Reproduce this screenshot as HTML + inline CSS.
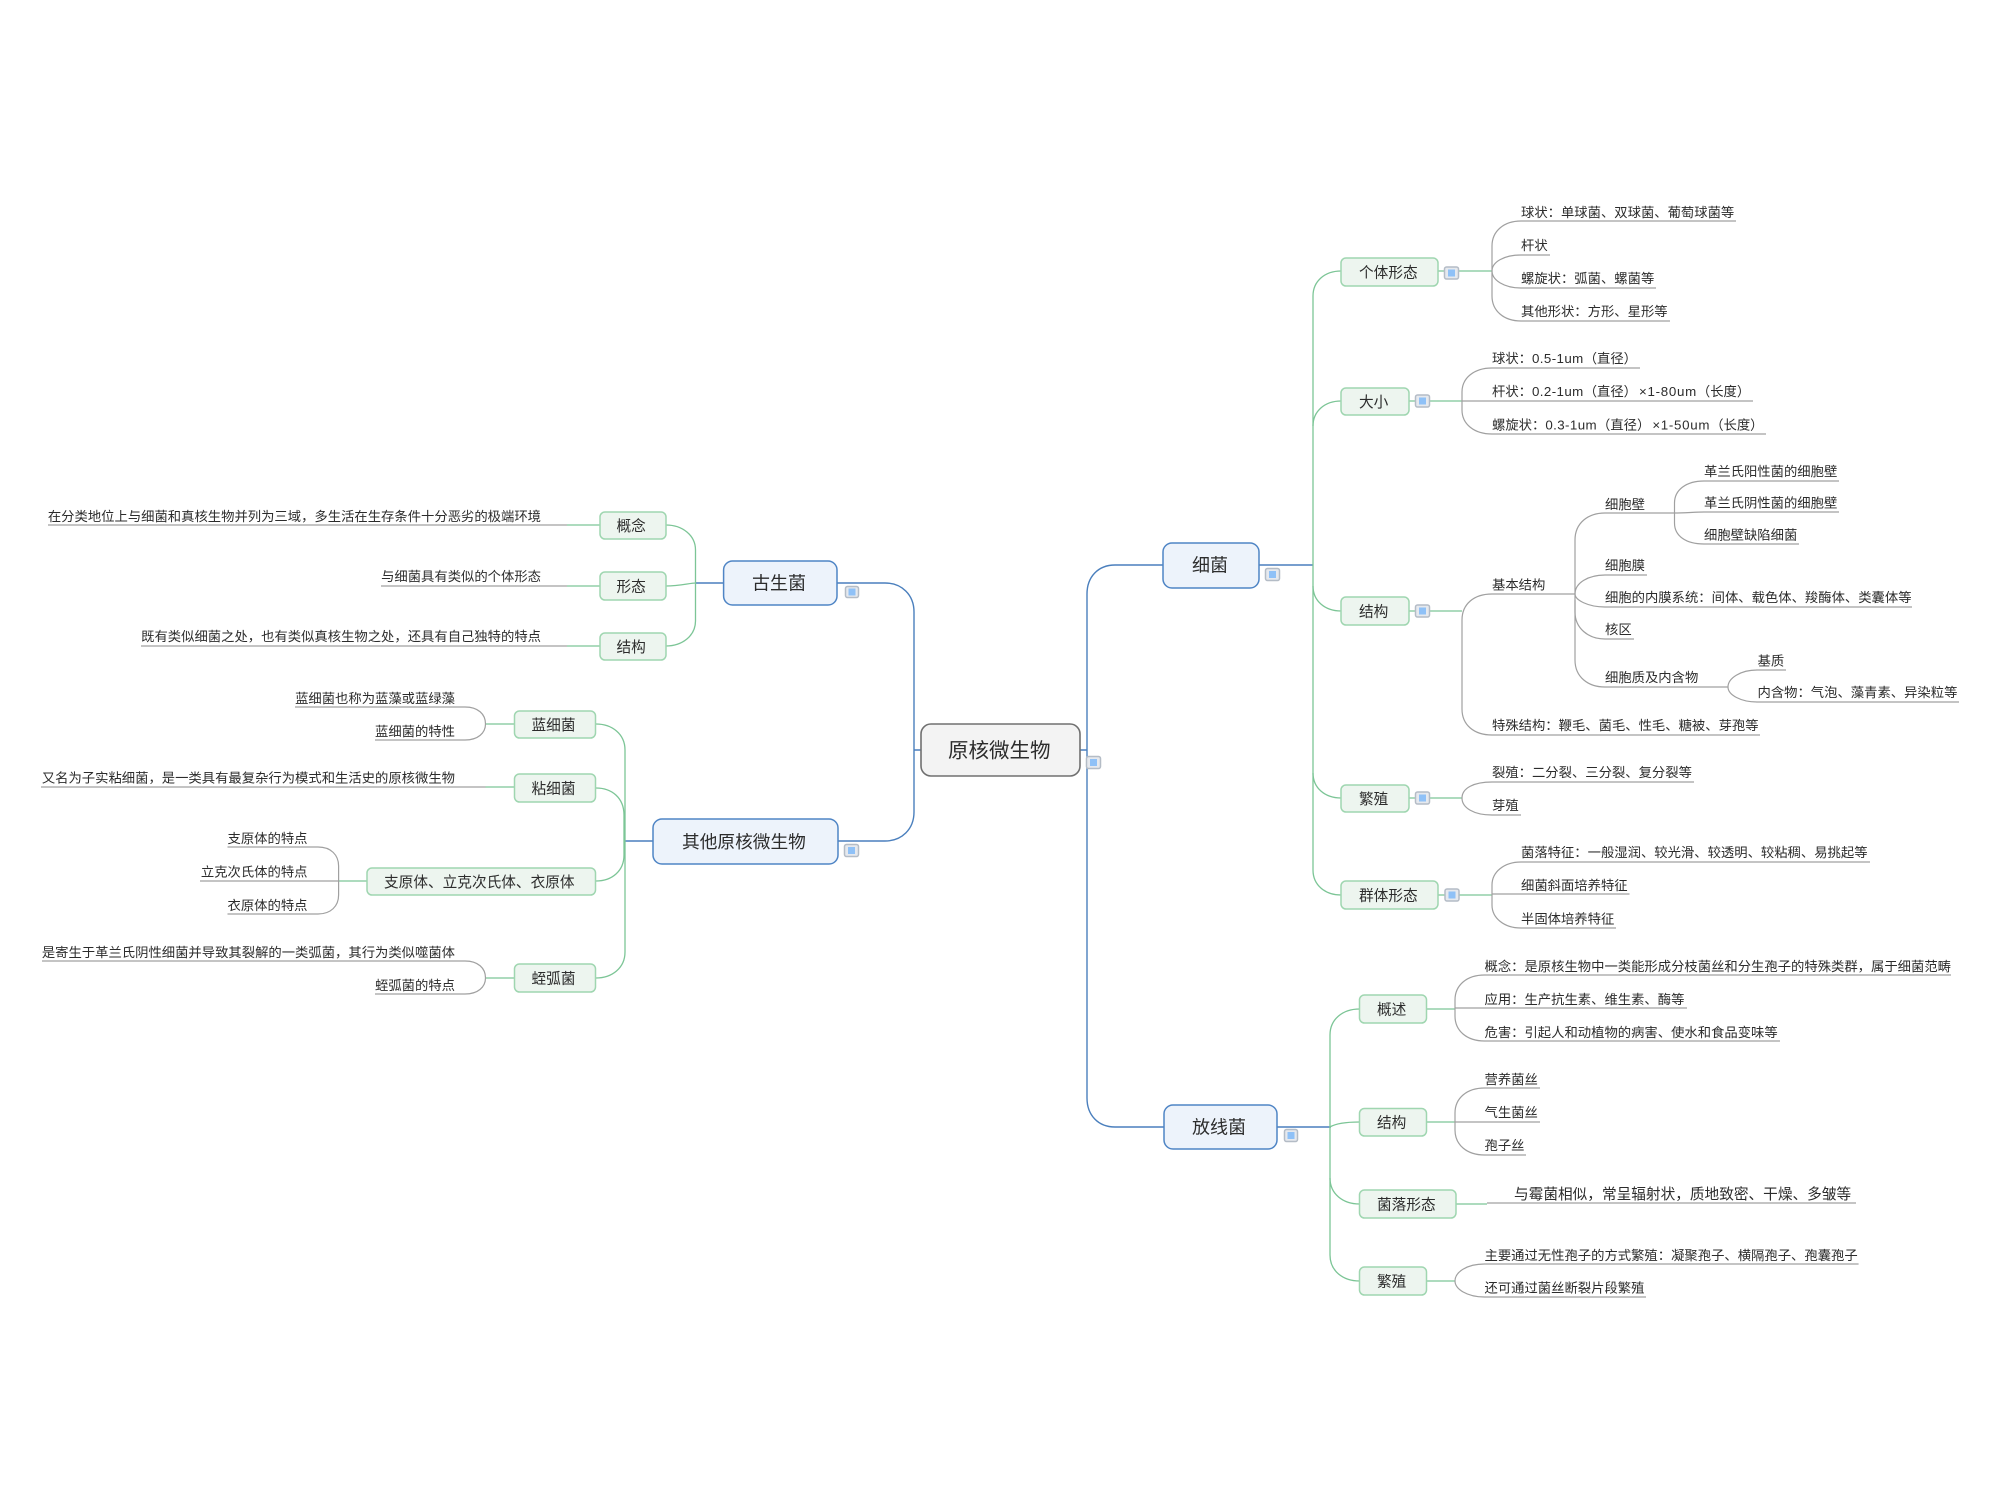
<!DOCTYPE html>
<html><head><meta charset="utf-8"><style>
html,body{margin:0;padding:0;background:#fff}
svg{display:block}
text{font-family:"Liberation Sans","Noto Sans CJK SC",sans-serif;fill:#2c2c2c;font-size:13.33px}
.g{fill:none;stroke:#7cc596;stroke-width:1.3}
.y{fill:none;stroke:#a0a0a0;stroke-width:1.2}
.b{fill:none;stroke:#4a7fbd;stroke-width:1.4}
.s{fill:#edf5ef;stroke:#9fd6b0;stroke-width:1.5}
.t{fill:#edf3fb;stroke:#4f85c5;stroke-width:1.5}
.m{font-size:14.67px}
.l{font-size:18px}
.o{fill:#e6e9ee;stroke:#b4bcc6;stroke-width:1.5}
.i{fill:#8fc1f7;stroke:none}
.n{letter-spacing:.4px}
.x{letter-spacing:.7px}
</style></head><body>
<svg width="2000" height="1500" viewBox="0 0 2000 1500" xmlns="http://www.w3.org/2000/svg">
<rect width="2000" height="1500" fill="#fff"/>

<!-- main blue -->
<path class="b" d="M1163 565H1115C1098 565 1087 577 1087 594V1098C1087 1115 1098 1127 1115 1127H1164"/>
<path class="b" d="M1080 750H1087M914 750H921"/>
<path class="b" d="M837 583H885C902 583 914 595 914 612V812C914 829 902 841 885 841H838"/>
<path class="b" d="M1259 565H1313M1277 1127H1331M695.500 583H723.600M625 841H653"/>

<!-- bacteria green -->
<path class="g" d="M1341 271C1325 271 1313 281 1313 296V870C1313 885 1325 895 1341 895"/>
<path class="g" d="M1341 401C1325 401 1313 411 1313 426M1341 611C1325 611 1313 601 1313 586M1341 798C1325 798 1313 788 1313 773"/>
<path class="g" d="M1438 271H1492M1409 401H1462M1409 611H1462M1409 798H1462M1438 895H1492"/>

<!-- bacteria gray -->
<path class="y" d="M1736 221H1521C1504 221 1492 231 1492 246V296C1492 311 1504 321 1521 321H1670"/>
<path class="y" d="M1550 255H1521C1504 255 1492 262 1492 271C1492 280 1504 288 1521 288H1656"/>
<path class="y" d="M1640 368H1492C1474 368 1462 378 1462 392V410C1462 424 1474 434 1492 434H1766"/>
<path class="y" d="M1462 401H1753"/>
<path class="y" d="M1575 594H1492C1474 594 1462 604 1462 620V709C1462 725 1474 735 1492 735H1760"/>
<path class="y" d="M1605 513C1588 513 1575 523 1575 540V660C1575 677 1588 687 1605 687H1728"/>
<path class="y" d="M1605 513H1674.500M1647 575H1605C1588 575 1575 583 1575 594C1575 600 1588 607 1605 607H1912"/>
<path class="y" d="M1575 600V612C1575 628 1588 639 1605 639H1634"/>
<path class="y" d="M1839 481H1704C1686 481 1674.500 490 1674.500 503V523C1674.500 536 1686 544 1704 544H1799"/>
<path class="y" d="M1674.500 513C1685 513 1695 512 1704 512H1839"/>
<path class="y" d="M1786 670H1757C1741 670 1728 678 1728 687C1728 695 1741 702 1757 702H1959"/>
<path class="y" d="M1694 782H1492C1474 782 1462 788 1462 798C1462 808 1474 815 1492 815H1521"/>
<path class="y" d="M1870 862H1521C1504 862 1492 872 1492 885V905C1492 918 1504 928 1521 928H1616"/>
<path class="y" d="M1492 894H1629.500"/>

<!-- actinomycetes -->
<path class="g" d="M1359.500 1009C1343 1009 1330 1019 1330 1035V1255C1330 1271 1343 1281 1359.500 1281"/>
<path class="g" d="M1359.500 1122C1345 1122 1335 1124 1330 1127M1359.500 1204C1343 1204 1330 1194 1330 1178"/>
<path class="g" d="M1426 1009H1455M1426 1122H1455M1456 1204H1487M1426 1281H1455"/>
<path class="y" d="M1951 975H1484.500C1467 975 1455 985 1455 1000V1016C1455 1031 1467 1041 1484.500 1041H1780"/>
<path class="y" d="M1455 1008H1687"/>
<path class="y" d="M1540 1088H1484.500C1467 1088 1455 1098 1455 1113V1130C1455 1145 1467 1155 1484.500 1155H1526"/>
<path class="y" d="M1455 1122H1540M1487 1203H1856"/>
<path class="y" d="M1858.600 1264H1484.500C1467 1264 1455 1272 1455 1281C1455 1289 1467 1297 1484.500 1297H1646"/>

<!-- archaea -->
<path class="g" d="M666 525C682 525 695.500 535 695.500 550V621C695.500 636 682 646 666 646"/>
<path class="g" d="M666 586C680 586 690 583 695.500 583"/>
<path class="g" d="M567 525H600M567 586H600M567 646H600"/>
<path class="y" d="M48 525H567M381 586H567M141 646H567"/>

<!-- others -->
<path class="g" d="M596 724C612 724 625 734 625 750V952C625 968 612 978 596 978"/>
<path class="g" d="M596 788C612 788 624 798 624 815V855C624 871 612 881 596 881"/>
<path class="g" d="M485.500 724H514.500M485.500 787H514.500M338.600 881H367M485.500 978H514.500"/>
<path class="y" d="M295 707H465C478 707 485.500 714 485.500 724C485.500 733 478 740 465 740H375"/>
<path class="y" d="M41 787H485.500"/>
<path class="y" d="M227.500 847H318C331 847 338.600 855 338.600 866V895C338.600 906 331 914 318 914H227.500"/>
<path class="y" d="M200 881H338.600"/>
<path class="y" d="M42 961H465C478 961 485.500 968 485.500 978C485.500 987 478 994 465 994H375"/>

<!-- top-level boxes -->
<rect x="921" y="724" width="159" height="52" rx="10" fill="#f3f3f3" stroke="#707070" stroke-width="1.6"/>
<text x="948" y="757.500" style="font-size:20.500px">原核微生物</text>
<rect class="t" x="1163" y="543" width="96" height="45" rx="9"/>
<text class="l" x="1192" y="571.500">细菌</text>
<rect class="t" x="1164" y="1105" width="113" height="44" rx="9"/>
<text class="l" x="1192" y="1133.500">放线菌</text>
<rect class="t" x="723.600" y="561" width="113.400" height="44" rx="9"/>
<text class="l" x="752" y="589.500">古生菌</text>
<rect class="t" x="653" y="819" width="185" height="45" rx="9"/>
<text x="682" y="848" style="font-size:17.700px">其他原核微生物</text>

<!-- secondary boxes -->
<rect class="s" x="1341" y="258" width="97" height="28" rx="5"/><text class="m" x="1359" y="277.500">个体形态</text>
<rect class="s" x="1341" y="388" width="68" height="27" rx="5"/><text class="m" x="1359" y="407">大小</text>
<rect class="s" x="1341" y="597" width="68" height="28" rx="5"/><text class="m" x="1359" y="616.500">结构</text>
<rect class="s" x="1341" y="785" width="68" height="27" rx="5"/><text class="m" x="1359" y="804">繁殖</text>
<rect class="s" x="1341" y="881" width="97" height="28" rx="5"/><text class="m" x="1359" y="900.500">群体形态</text>

<rect class="s" x="1359.500" y="995" width="67" height="28" rx="5"/><text class="m" x="1377" y="1014.500">概述</text>
<rect class="s" x="1359.500" y="1108.500" width="67" height="27.500" rx="5"/><text class="m" x="1377" y="1127.500">结构</text>
<rect class="s" x="1359.500" y="1190" width="96.500" height="28" rx="5"/><text class="m" x="1377" y="1209.500">菌落形态</text>
<rect class="s" x="1359.500" y="1267" width="67" height="28" rx="5"/><text class="m" x="1377" y="1286.500">繁殖</text>

<rect class="s" x="600" y="512" width="66" height="27" rx="5"/><text class="m" x="616.500" y="531">概念</text>
<rect class="s" x="600" y="572" width="66" height="28" rx="5"/><text class="m" x="616.500" y="591.500">形态</text>
<rect class="s" x="600" y="633" width="66" height="27" rx="5"/><text class="m" x="616.500" y="652">结构</text>

<rect class="s" x="514.500" y="711" width="81" height="27" rx="5"/><text class="m" x="531.500" y="730">蓝细菌</text>
<rect class="s" x="514.500" y="774" width="81" height="28" rx="5"/><text class="m" x="531.500" y="793.500">粘细菌</text>
<rect class="s" x="367" y="868" width="228.500" height="27" rx="5"/><text class="m" x="384" y="887">支原体、立克次氏体、衣原体</text>
<rect class="s" x="514.500" y="964" width="81" height="28" rx="5"/><text class="m" x="531.500" y="983.500">蛭弧菌</text>

<!-- collapse icons -->
<g>
<rect class="o" x="1086.500" y="756.500" width="14" height="12" rx="2"/><rect class="i" x="1090" y="759" width="7" height="7"/>
<rect class="o" x="1265.500" y="568.500" width="14" height="12" rx="2"/><rect class="i" x="1269" y="571" width="7" height="7"/>
<rect class="o" x="1284.500" y="1129.500" width="13" height="12" rx="2"/><rect class="i" x="1287.500" y="1132" width="7" height="7"/>
<rect class="o" x="845.500" y="586.500" width="13" height="11" rx="2"/><rect class="i" x="848.500" y="588.500" width="7" height="7"/>
<rect class="o" x="844.500" y="844.500" width="14" height="12" rx="2"/><rect class="i" x="848" y="847" width="7" height="7"/>
<rect class="o" x="1444.500" y="267" width="14" height="12" rx="2"/><rect class="i" x="1448" y="269.500" width="7" height="7"/>
<rect class="o" x="1415.500" y="395" width="14" height="12" rx="2"/><rect class="i" x="1419" y="397.500" width="7" height="7"/>
<rect class="o" x="1415.500" y="605" width="14" height="12" rx="2"/><rect class="i" x="1419" y="607.500" width="7" height="7"/>
<rect class="o" x="1415.500" y="792" width="14" height="12" rx="2"/><rect class="i" x="1419" y="794.500" width="7" height="7"/>
<rect class="o" x="1445" y="889" width="14" height="12" rx="2"/><rect class="i" x="1448.500" y="891.500" width="7" height="7"/>
</g>

<!-- bacteria leaves -->
<text x="1521" y="217">球状：单球菌、双球菌、葡萄球菌等</text>
<text x="1521" y="250">杆状</text>
<text x="1521" y="283">螺旋状：弧菌、螺菌等</text>
<text x="1521" y="316">其他形状：方形、星形等</text>
<text x="1492" y="363">球状：<tspan class="n">0.5-1um</tspan>（直径）</text>
<text x="1492" y="396">杆状：<tspan class="n">0.2-1um</tspan>（直径）<tspan class="x" dx="2">×1-80um</tspan>（长度）</text>
<text x="1492" y="429.500">螺旋状：<tspan class="n">0.3-1um</tspan>（直径）<tspan class="x" dx="2">×1-50um</tspan>（长度）</text>
<text x="1492" y="589.500">基本结构</text>
<text x="1605" y="509">细胞壁</text>
<text x="1704" y="476">革兰氏阳性菌的细胞壁</text>
<text x="1704" y="507.500">革兰氏阴性菌的细胞壁</text>
<text x="1704" y="539.500">细胞壁缺陷细菌</text>
<text x="1605" y="570">细胞膜</text>
<text x="1605" y="602">细胞的内膜系统：间体、载色体、羧酶体、类囊体等</text>
<text x="1605" y="634">核区</text>
<text x="1605" y="682">细胞质及内含物</text>
<text x="1757.500" y="665.500">基质</text>
<text x="1757.500" y="697">内含物：气泡、藻青素、异染粒等</text>
<text x="1492" y="730">特殊结构：鞭毛、菌毛、性毛、糖被、芽孢等</text>
<text x="1492" y="777">裂殖：二分裂、三分裂、复分裂等</text>
<text x="1492" y="810">芽殖</text>
<text x="1521" y="857">菌落特征：一般湿润、较光滑、较透明、较粘稠、易挑起等</text>
<text x="1521" y="890">细菌斜面培养特征</text>
<text x="1521" y="923.500">半固体培养特征</text>

<!-- actinomycete leaves -->
<text x="1484.500" y="971">概念：是原核生物中一类能形成分枝菌丝和分生孢子的特殊类群，属于细菌范畴</text>
<text x="1484.500" y="1004">应用：生产抗生素、维生素、酶等</text>
<text x="1484.500" y="1037">危害：引起人和动植物的病害、使水和食品变味等</text>
<text x="1484.500" y="1084">营养菌丝</text>
<text x="1484.500" y="1117">气生菌丝</text>
<text x="1484.500" y="1150">孢子丝</text>
<text class="m" x="1514" y="1199">与霉菌相似，常呈辐射状，质地致密、干燥、多皱等</text>
<text x="1484.500" y="1260">主要通过无性孢子的方式繁殖：凝聚孢子、横隔孢子、孢囊孢子</text>
<text x="1484.500" y="1292.500">还可通过菌丝断裂片段繁殖</text>

<!-- left leaves -->
<g text-anchor="end">
<text x="541" y="521">在分类地位上与细菌和真核生物并列为三域，多生活在生存条件十分恶劣的极端环境</text>
<text x="541" y="581">与细菌具有类似的个体形态</text>
<text x="541" y="641">既有类似细菌之处，也有类似真核生物之处，还具有自己独特的特点</text>
<text x="455" y="703">蓝细菌也称为蓝藻或蓝绿藻</text>
<text x="455" y="736">蓝细菌的特性</text>
<text x="455" y="782.500">又名为子实粘细菌，是一类具有最复杂行为模式和生活史的原核微生物</text>
<text x="307.500" y="843">支原体的特点</text>
<text x="307.500" y="876.500">立克次氏体的特点</text>
<text x="307.500" y="910">衣原体的特点</text>
<text x="455" y="957">是寄生于革兰氏阴性细菌并导致其裂解的一类弧菌，其行为类似噬菌体</text>
<text x="455" y="990">蛭弧菌的特点</text>
</g>
</svg>
</body></html>
